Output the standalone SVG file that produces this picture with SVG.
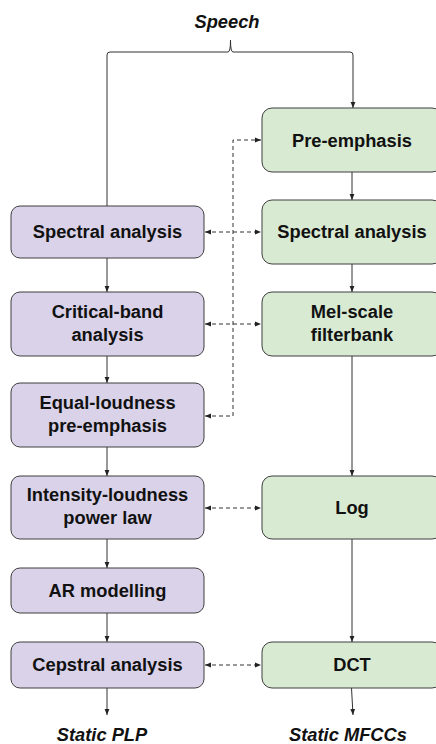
<svg xmlns="http://www.w3.org/2000/svg" width="436" height="744" viewBox="0 0 436 744">
  <style>
    .plp rect { fill: #d9d2e9; stroke: #3f3f3f; stroke-width: 1; }
    .mfcc rect { fill: #d9ead3; stroke: #3f3f3f; stroke-width: 1; }
    text { font-family: "Liberation Sans", Arial, sans-serif; font-weight: bold; font-size: 18.3px; fill: #111; text-anchor: middle; }
    .io { font-style: italic; }
    .flow { fill: none; stroke: #333; stroke-width: 1; marker-end: url(#arr); }
    .link { fill: none; stroke: #333; stroke-width: 1; stroke-dasharray: 4 3; }
  </style>
  <defs>
    <marker id="arr" viewBox="0 0 10 10" refX="10" refY="5" markerWidth="6" markerHeight="6" markerUnits="userSpaceOnUse" orient="auto">
      <path d="M0,1 L10,5 L0,9 z" fill="#222"/>
    </marker>
    <marker id="arrs" viewBox="0 0 10 10" refX="10" refY="5" markerWidth="6" markerHeight="6" markerUnits="userSpaceOnUse" orient="auto-start-reverse">
      <path d="M0,1 L10,5 L0,9 z" fill="#222"/>
    </marker>
  </defs>

  <text class="io" x="227" y="28">Speech</text>
  <text class="io" x="102" y="741">Static PLP</text>
  <text class="io" x="348" y="741">Static MFCCs</text>

  <g id="connectors">
    <!-- speech split into both pipelines -->
    <path class="flow" d="M107,206 V55 Q107,52 110,52 H228 Q230.5,52 230.5,40 Q230.5,52 233,52 H350 Q353,52 353,55 V108"/>
    <!-- PLP chain -->
    <path class="flow" d="M107,258 V292"/>
    <path class="flow" d="M107,356 V383"/>
    <path class="flow" d="M107,447 V476"/>
    <path class="flow" d="M107,539 V568"/>
    <path class="flow" d="M107,613 V642"/>
    <path class="flow" d="M107,688 V715"/>
    <!-- MFCC chain -->
    <path class="flow" d="M352,172 V200"/>
    <path class="flow" d="M352,264 V292"/>
    <path class="flow" d="M352,356 V476"/>
    <path class="flow" d="M352,539 V642"/>
    <path class="flow" d="M351.5,688 L353,715"/>
    <!-- correspondences -->
    <path class="link" d="M205,416 H233 V140 H261" marker-start="url(#arrs)" marker-end="url(#arrs)"/>
    <path class="link" d="M205,232 H261" marker-start="url(#arrs)" marker-end="url(#arrs)"/>
    <path class="link" d="M205,324 H261" marker-start="url(#arrs)" marker-end="url(#arrs)"/>
    <path class="link" d="M205,508 H261" marker-start="url(#arrs)" marker-end="url(#arrs)"/>
    <path class="link" d="M205,665 H261" marker-start="url(#arrs)" marker-end="url(#arrs)"/>
  </g>

  <g id="plp-spectral" class="plp"><rect x="11" y="206" width="193" height="52" rx="9"/><text x="107.5" y="238">Spectral analysis</text></g>
  <g id="plp-critical" class="plp"><rect x="11" y="292" width="193" height="64" rx="9"/><text x="107.5" y="318">Critical-band</text><text x="107.5" y="341">analysis</text></g>
  <g id="plp-equal" class="plp"><rect x="11" y="383" width="193" height="64" rx="9"/><text x="107.5" y="409">Equal-loudness</text><text x="107.5" y="432">pre-emphasis</text></g>
  <g id="plp-intensity" class="plp"><rect x="11" y="476" width="193" height="63" rx="9"/><text x="107.5" y="501">Intensity-loudness</text><text x="107.5" y="524">power law</text></g>
  <g id="plp-ar" class="plp"><rect x="11" y="568" width="193" height="45" rx="9"/><text x="107.5" y="597">AR modelling</text></g>
  <g id="plp-cepstral" class="plp"><rect x="11" y="642" width="193" height="46" rx="9"/><text x="107.5" y="671">Cepstral analysis</text></g>

  <g id="mfcc-preemph" class="mfcc"><rect x="262" y="108" width="180" height="64" rx="10"/><text x="352" y="147">Pre-emphasis</text></g>
  <g id="mfcc-spectral" class="mfcc"><rect x="262" y="200" width="180" height="64" rx="10"/><text x="352" y="238">Spectral analysis</text></g>
  <g id="mfcc-mel" class="mfcc"><rect x="262" y="292" width="180" height="64" rx="10"/><text x="352" y="318">Mel-scale</text><text x="352" y="341">filterbank</text></g>
  <g id="mfcc-log" class="mfcc"><rect x="262" y="476" width="180" height="63" rx="10"/><text x="352" y="514">Log</text></g>
  <g id="mfcc-dct" class="mfcc"><rect x="262" y="642" width="180" height="46" rx="10"/><text x="352" y="671">DCT</text></g>
</svg>
